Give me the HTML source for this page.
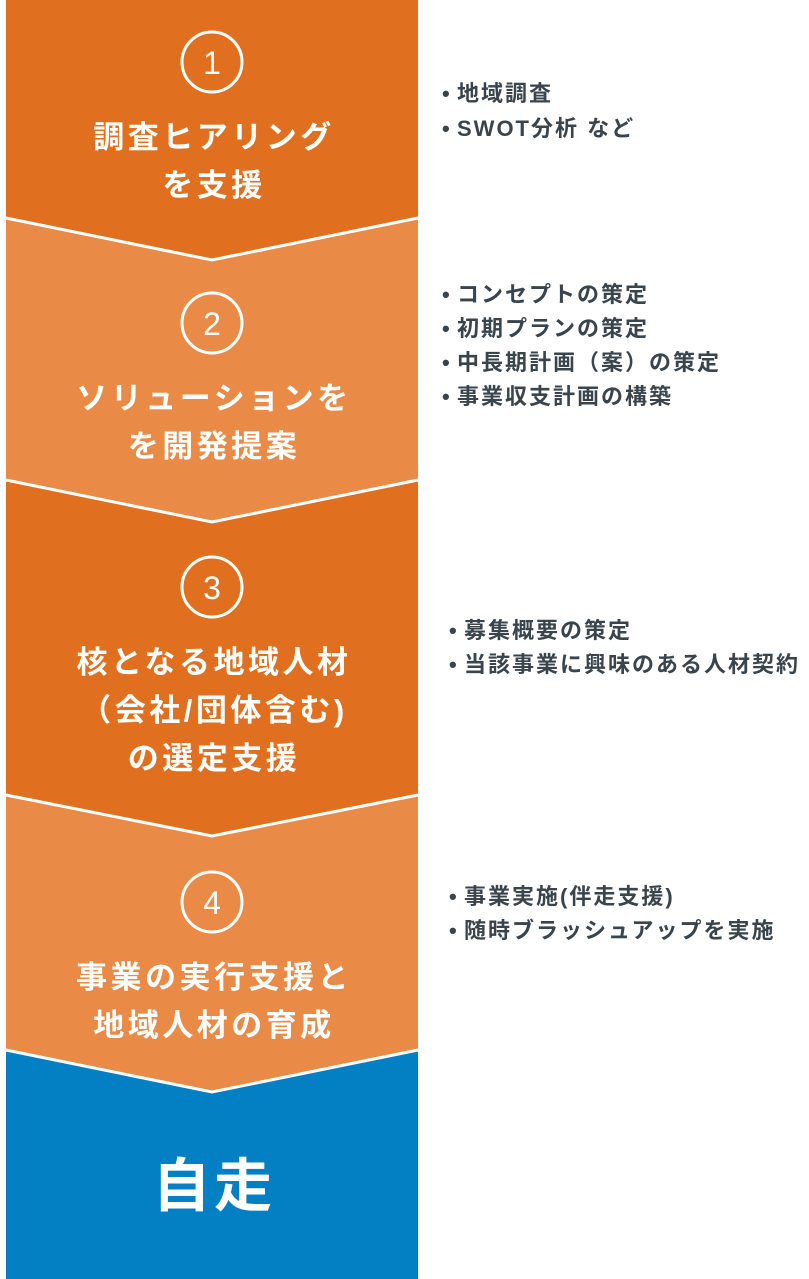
<!DOCTYPE html>
<html><head><meta charset="utf-8"><style>
html,body{margin:0;padding:0;background:#fff;}
svg{display:block;}
.t{font-family:"Liberation Sans","Noto Sans CJK JP",sans-serif;font-weight:bold;fill:#fff;text-anchor:middle;letter-spacing:3.5px;}
.r{font-family:"Liberation Sans","Noto Sans CJK JP",sans-serif;font-weight:bold;fill:#3a444c;font-size:22px;letter-spacing:2px;}
.n{font-family:"Liberation Sans","Noto Sans CJK JP",sans-serif;fill:#fff;text-anchor:middle;font-size:32px;}
</style></head><body>
<svg width="809" height="1279" viewBox="0 0 809 1279" xmlns="http://www.w3.org/2000/svg">
<rect x="6" y="0" width="412" height="1279" fill="#0380C4"/>
<polygon points="6,0 418,0 418,1050 212,1092 6,1050" fill="#EA8A47"/>
<polygon points="6,0 418,0 418,795 212,836 6,795" fill="#E07020"/>
<polygon points="6,0 418,0 418,480 212,522 6,480" fill="#EA8A47"/>
<polygon points="6,0 418,0 418,218 212,260 6,218" fill="#E07020"/>
<g fill="none" stroke="#fff" stroke-width="3">
<polyline points="6,218 212,260 418,218"/>
<polyline points="6,480 212,522 418,480"/>
<polyline points="6,795 212,836 418,795"/>
<polyline points="6,1050 212,1092 418,1050"/>
<circle cx="212" cy="62" r="30"/>
<circle cx="212" cy="323" r="30"/>
<circle cx="212" cy="587" r="30"/>
<circle cx="212" cy="902" r="30"/>
</g>
<text class="n" x="212" y="74">1</text>
<text class="n" x="212" y="335">2</text>
<text class="n" x="212" y="599">3</text>
<text class="n" x="212" y="914">4</text>
<g class="t" font-size="31">
<text x="214" y="148">調査ヒアリング</text>
<text x="214" y="196">を支援</text>
<text x="214" y="409">ソリューションを</text>
<text x="214" y="457">を開発提案</text>
<text x="214" y="673">核となる地域人材</text>
<text x="214" y="721">（会社/団体含む)</text>
<text x="214" y="769">の選定支援</text>
<text x="214" y="988">事業の実行支援と</text>
<text x="214" y="1036">地域人材の育成</text>
<text x="214" y="1206" font-size="58">自走</text>
</g>
<g class="r">
<text x="442" y="101">•</text><text x="457" y="101">地域調査</text>
<text x="442" y="136">•</text><text x="457" y="136">SWOT分析 など</text>
<text x="442" y="302">•</text><text x="457" y="302">コンセプトの策定</text>
<text x="442" y="336">•</text><text x="457" y="336">初期プランの策定</text>
<text x="442" y="370">•</text><text x="457" y="370">中長期計画（案）の策定</text>
<text x="442" y="404">•</text><text x="457" y="404">事業収支計画の構築</text>
<text x="449" y="638">•</text><text x="464" y="638">募集概要の策定</text>
<text x="449" y="672">•</text><text x="464" y="672">当該事業に興味のある人材契約</text>
<text x="449" y="904">•</text><text x="464" y="904">事業実施(伴走支援)</text>
<text x="449" y="938">•</text><text x="464" y="938">随時ブラッシュアップを実施</text>
</g>
</svg>
</body></html>
